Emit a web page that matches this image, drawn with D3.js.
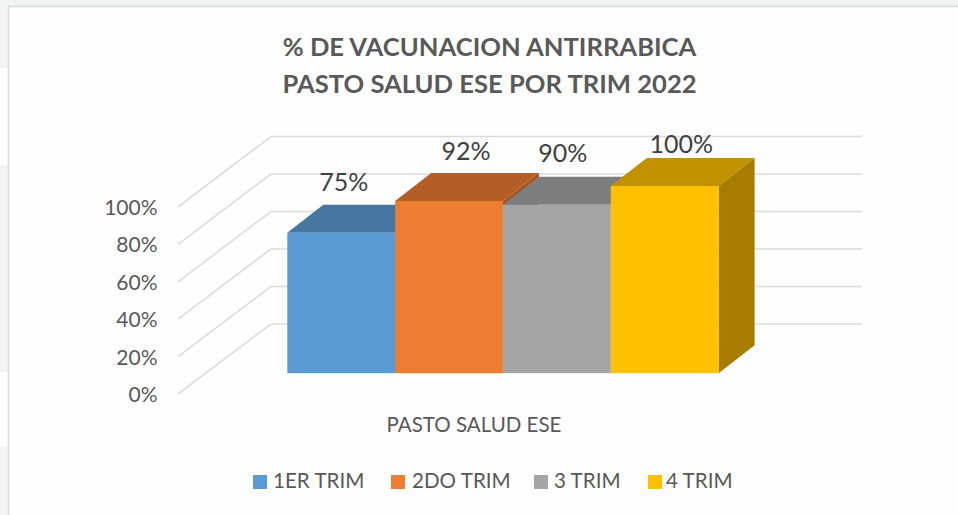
<!DOCTYPE html>
<html><head><meta charset="utf-8">
<script src="https://cdn.jsdelivr.net/npm/d3@7"></script>
<style>html,body{margin:0;padding:0;background:#fff}svg{display:block}text{font-family:Lato,"Open Sans",sans-serif}</style>
</head><body><div id="c"></div>
<script>
const titleLines = ["% DE VACUNACION ANTIRRABICA","PASTO SALUD ESE POR TRIM 2022"];
const categories = ["1ER TRIM","2DO TRIM","3 TRIM","4 TRIM"];
const values = [0.75,0.92,0.90,1.00];
const labels = ["75%","92%","90%","100%"];
const colors = ["#5b9bd5","#ed7d31","#a5a5a5","#ffc000"];
const topColors = ["#4676a2","#b25e24","#7d7d7d","#c19100"];
const sideColors = ["#3d6791","#a35420","#6f6f6f","#a67d00"];
const ticks = [0,0.2,0.4,0.6,0.8,1];
const axisTitle = "PASTO SALUD ESE";

const W=958,H=515;
const svg=d3.select("#c").append("svg").attr("width",W).attr("height",H);

// page background and frame
svg.append("rect").attr("width",W).attr("height",H).attr("fill","#fefefe");
svg.append("rect").attr("width",W).attr("height",7).attr("fill","#f1f3f3");
svg.append("rect").attr("width",8).attr("height",H).attr("fill","#f3f5f5");
svg.append("rect").attr("y",68).attr("width",8).attr("height",97).attr("fill","#fcfcfc");
svg.append("rect").attr("y",372).attr("width",8).attr("height",75).attr("fill","#fdfdfd");
svg.append("path").attr("d",`M8.5,${H}V6.5H${W}`).attr("fill","none").attr("stroke","#d9d9d9").attr("stroke-width",1.4);

const x=d3.scaleBand().domain(categories).range([287.3,718.6]).padding(0);
const y=d3.scaleLinear().domain([0,1]).range([373.2,186]);
const yAxisScale=d3.scaleLinear().domain([0,1]).range([394,207]);
const yWall=d3.scaleLinear().domain([0,1]).range([324,136.5]);
const dx=36,dy=28;

// walls
const grid=svg.append("g").attr("fill","none").attr("stroke","#dcdcdc").attr("stroke-width",1.6);
ticks.forEach(t=>{
  grid.append("path").attr("d",d3.line()([[178,yAxisScale(t)],[271,yWall(t)],[862,yWall(t)]]));
});

// bars
const bars=svg.append("g").selectAll("g").data(categories).join("g");
bars.each(function(c,i){
  const g=d3.select(this),l=x(c),r=l+x.bandwidth(),t=y(values[i]),b=y(0);
  g.append("path").attr("fill",sideColors[i]).attr("d",d3.line()([[r,t],[r+dx,t-dy],[r+dx,b-dy],[r,b]])+"Z");
  g.append("path").attr("fill",topColors[i]).attr("d",d3.line()([[l,t],[l+dx,t-dy],[r+dx,t-dy],[r,t]])+"Z");
  g.append("rect").attr("x",l).attr("y",t).attr("width",x.bandwidth()).attr("height",b-t).attr("fill",colors[i]);
});

// data labels
svg.append("g").selectAll("text").data(categories).join("text")
  .attr("x",(c,i)=>x(c)+x.bandwidth()/2+[2.5,17,6,16.5][i])
  .attr("y",(c,i)=>y(values[i])-[41.5,40.5,42.5,33.5][i])
  .attr("text-anchor","middle").attr("dominant-baseline","alphabetic")
  .attr("font-size",25).attr("fill","#404040").text((c,i)=>labels[i]);

// y axis labels
const ax=svg.append("g").attr("transform","translate(157.5,0.7)")
  .call(d3.axisLeft(yAxisScale).tickValues(ticks).tickSize(0).tickFormat(d3.format(".0%")));
ax.select(".domain").remove();
ax.selectAll("text").attr("x",0).attr("font-size",21).attr("fill","#595959").attr("font-family","Lato");

// axis title
svg.append("text").attr("x",474).attr("y",432).attr("text-anchor","middle")
  .attr("font-size",20.5).attr("fill","#595959").text(axisTitle);

// title
svg.append("g").selectAll("text").data(titleLines).join("text")
  .attr("x",489.5).attr("y",(d,i)=>56+i*37).attr("text-anchor","middle")
  .attr("font-size",25.6).attr("font-weight",700).attr("fill","#595959").text(d=>d);

// legend
const legX=[253,391,534,648],legT=[273,412,554,666];
const leg=svg.append("g");
categories.forEach((c,i)=>{
  leg.append("rect").attr("x",legX[i]).attr("y",475).attr("width",14).attr("height",14).attr("fill",colors[i]);
  leg.append("text").attr("x",legT[i]).attr("y",488).attr("font-size",20.6).attr("fill","#595959").text(c);
});
</script></body></html>
